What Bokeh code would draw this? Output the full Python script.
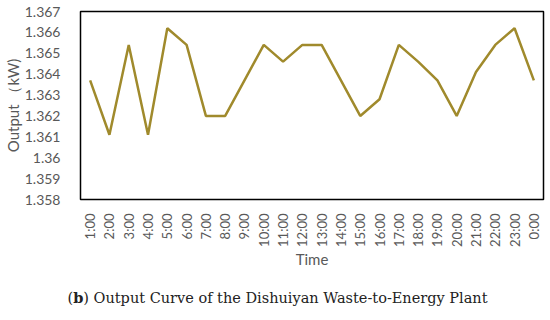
import math
from bokeh.plotting import figure
from bokeh.models import Range1d, FixedTicker, CustomJSTickFormatter, Div
from bokeh.layouts import column
from bokeh.embed import file_html
from bokeh.resources import INLINE

hours = ["1:00", "2:00", "3:00", "4:00", "5:00", "6:00", "7:00", "8:00", "9:00",
         "10:00", "11:00", "12:00", "13:00", "14:00", "15:00", "16:00", "17:00",
         "18:00", "19:00", "20:00", "21:00", "22:00", "23:00", "0:00"]
output_kw = [1.3637, 1.3611, 1.3654, 1.3611, 1.3662, 1.3654, 1.3620, 1.3620, 1.3637,
             1.3654, 1.3646, 1.3654, 1.3654, 1.3637, 1.3620, 1.3628, 1.3654, 1.3646,
             1.3637, 1.3620, 1.3641, 1.3654, 1.3662, 1.3637]
y_ticks = [1.358, 1.359, 1.360, 1.361, 1.362, 1.363, 1.364, 1.365, 1.366, 1.367]

p = figure(width=545, height=282, x_range=hours, y_range=Range1d(1.358, 1.367),
           output_backend="svg", toolbar_location=None,
           min_border_top=11, min_border_left=79, min_border_right=2, min_border_bottom=83)
p.line(hours, output_kw, line_color="#A08A2C", line_width=2.5)

p.xgrid.visible = False
p.ygrid.visible = False
p.outline_line_color = "black"
p.outline_line_width = 1.5
p.outline_line_alpha = 1.0

p.yaxis.ticker = FixedTicker(ticks=y_ticks)
p.yaxis.formatter = CustomJSTickFormatter(code="return tick.toFixed(3).replace(/0+$/, '');")
for ax in (p.xaxis[0], p.yaxis[0]):
    ax.axis_line_color = None
    ax.major_tick_line_color = None
    ax.minor_tick_line_color = None
    ax.major_label_text_color = "#595959"
    ax.major_label_text_font = "Lato"
    ax.axis_label_text_color = "#595959"
    ax.axis_label_text_font = "Lato"
    ax.axis_label_text_font_style = "normal"

p.yaxis.major_label_text_font_size = "14px"
p.yaxis.major_label_standoff = 14
p.yaxis.axis_label = "Output （kW)"
p.yaxis.axis_label_text_font_size = "15px"
p.yaxis.axis_label_standoff = 0

p.xaxis.major_label_orientation = math.pi / 2
p.xaxis.major_label_text_font_size = "13px"
p.xaxis.major_label_standoff = 8
p.xaxis.axis_label = "Time"
p.xaxis.axis_label_text_font_size = "15px"
p.xaxis.axis_label_standoff = 0

cap = Div(text="(<b>b</b>) Output Curve of the Dishuiyan Waste-to-Energy Plant",
          width=545, height=30,
          styles={"font-family": "'DejaVu Serif', serif", "font-size": "14.5px",
                  "color": "#222", "text-align": "center", "width": "545px",
                  "margin-top": "6px"})

layout = column(p, cap, spacing=0)
open("out.html", "w").write(file_html(layout, INLINE))
